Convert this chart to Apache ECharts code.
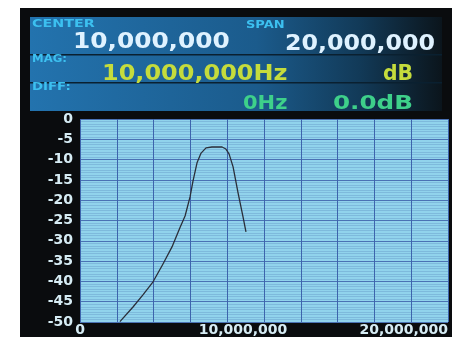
<!DOCTYPE html>
<html>
<head>
<meta charset="utf-8">
<script src="https://cdn.jsdelivr.net/npm/echarts@6/dist/echarts.min.js"></script>
<style>
  html, body { margin: 0; padding: 0; background: #ffffff; }
  #chart { width: 457px; height: 337px; }
</style>
</head>
<body>
<div id="chart"></div>
<script>
// sweep trace (Hz, dB)
const freqs = [2170000, 2880000, 3420000, 3970000, 4510000, 5000000, 5430000, 5710000, 5980000, 6140000,
  6360000, 6580000, 6850000, 7170000, 7720000, 7930000, 8100000, 8320000, 8590000, 8860000, 9020000];
const levels = [-49.9, -46.3, -43.3, -40.1, -35.7, -31.5, -26.8, -23.9, -19.2, -15.3,
  -10.8, -8.4, -7.1, -6.9, -6.9, -7.4, -8.6, -11.8, -18.2, -24.1, -27.8];
const xTicks = [0, 10000000, 20000000];

const fmt = v => String(v).replace(/\B(?=(\d{3})+(?!\d))/g, ',');
const FONT = '"DejaVu Sans", sans-serif';

// header text helper (LCD font is wide, so stretch horizontally)
function lcdText(text, x, y, size, color, sx) {
	return {
		type: 'text', x: x, y: y, scaleX: sx, scaleY: 1,
		style: {text: text, x: 0, y: 0, fill: color, font: 'bold ' + size + 'px ' + FONT,
			align: 'left', verticalAlign: 'middle'}
	};
}

const chart = echarts.init(document.getElementById('chart'));
chart.setOption({
	backgroundColor: '#ffffff',
	animation: false,
	graphic: [
		{type: 'rect', z: -10, shape: {x: 20, y: 8, width: 432, height: 329}, style: {fill: '#0a0c0e'}},
		{type: 'rect', z: -9, shape: {x: 30, y: 17, width: 412, height: 94},
			style: {fill: new echarts.graphic.LinearGradient(0, 0, 1, 0, [
				{offset: 0, color: '#2373ae'},
				{offset: 0.55, color: '#1b5b8c'},
				{offset: 0.8, color: '#123a58'},
				{offset: 1, color: '#0b151c'}
			])}},
		{type: 'rect', z: -8, shape: {x: 30, y: 54, width: 412, height: 1.5}, style: {fill: '#0a2030'}},
		{type: 'rect', z: -8, shape: {x: 30, y: 82, width: 412, height: 1.5}, style: {fill: '#0a2030'}},
		lcdText('CENTER', 32, 24, 10, '#3cc0f0', 1.43),
		lcdText('10,000,000', 73, 43, 21, '#dff2ff', 1.18),
		lcdText('SPAN', 246, 25.5, 10, '#3cc0f0', 1.3),
		lcdText('20,000,000', 285, 45, 21, '#dff2ff', 1.13),
		lcdText('MAG:', 32, 59, 10, '#3cc0f0', 1.17),
		lcdText('10,000,000Hz', 102, 75, 21, '#c5dc3c', 1.14),
		lcdText('dB', 383, 75, 21, '#c5dc3c', 0.97),
		lcdText('DIFF:', 32, 87.5, 10, '#3cc0f0', 1.33),
		lcdText('0Hz', 243, 104, 20, '#3ed08a', 1.05),
		lcdText('0.0dB', 333, 104, 20, '#3ed08a', 1.23)
	],
	grid: {
		left: 80, right: 9, top: 119, bottom: 15,
		show: true, backgroundColor: '#91d3ec', borderWidth: 0
	},
	xAxis: {
		type: 'value', min: 0, max: 20000000, interval: 2000000,
		axisLine: {show: false}, axisTick: {show: false},
		splitLine: {show: true, lineStyle: {color: '#3d64ad', width: 1}},
		axisLabel: {
			margin: 1, color: '#d6ecf4', fontFamily: FONT, fontWeight: 'bold', fontSize: 14,
			alignMaxLabel: 'right',
			formatter: v => {
				if (xTicks.indexOf(v) < 0) return '';
				if (v === 10000000) return '{m|' + fmt(v) + '}';
				return fmt(v);
			},
			rich: {m: {color: '#d6ecf4', fontFamily: FONT, fontWeight: 'bold', fontSize: 14, padding: [0, 42, 0, 0]}}
		}
	},
	yAxis: {
		type: 'value', min: -50, max: 0, interval: 5,
		axisLine: {show: false}, axisTick: {show: false},
		splitLine: {show: true, lineStyle: {color: '#4a72b4', width: 1}},
		minorTick: {show: false, splitNumber: 8},
		minorSplitLine: {show: true, lineStyle: {color: 'rgba(70,110,170,0.25)', width: 1}},
		axisLabel: {margin: 7, color: '#d6ecf4', fontFamily: FONT, fontWeight: 'bold', fontSize: 14}
	},
	series: [{
		type: 'line',
		data: freqs.map((f, i) => [f, levels[i]]),
		showSymbol: false,
		smooth: false,
		lineStyle: {color: '#2b2f3a', width: 1.3, join: 'round'}
	}]
});
</script>
</body>
</html>
